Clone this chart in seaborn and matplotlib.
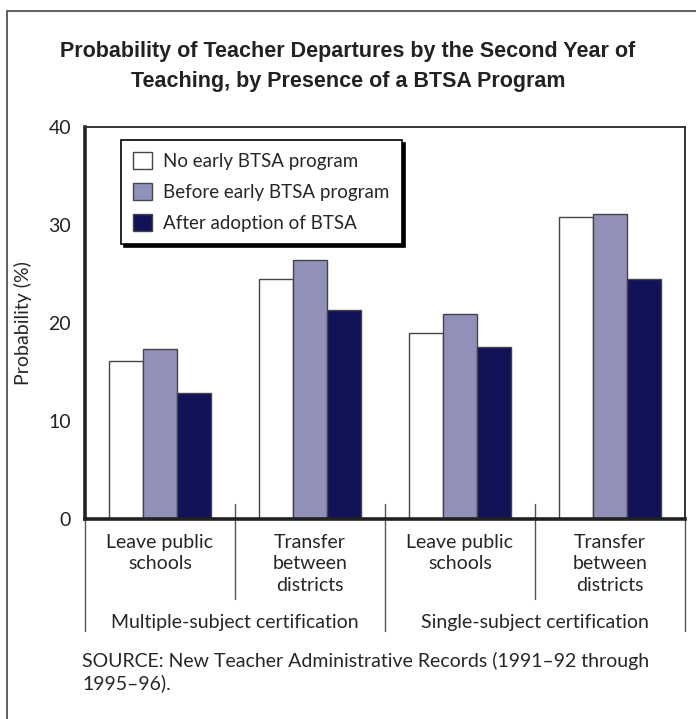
import pandas as pd
import numpy as np
import matplotlib
matplotlib.use('Agg')
import matplotlib.pyplot as plt
import matplotlib.transforms as mtransforms
from matplotlib.patches import Rectangle
import seaborn as sns

# data
cat_ids = ['ms_leave', 'ms_transfer', 'ss_leave', 'ss_transfer']
tick_labels = ['Leave public\nschools', 'Transfer\nbetween\ndistricts',
               'Leave public\nschools', 'Transfer\nbetween\ndistricts']
group_labels = ['Multiple-subject certification', 'Single-subject certification']
series = ['No early BTSA program', 'Before early BTSA program', 'After adoption of BTSA']
no_early = [16.1, 24.5, 19.0, 30.8]
before_early = [17.3, 26.4, 20.9, 31.1]
after_adoption = [12.9, 21.3, 17.6, 24.5]
colors = ['#ffffff', '#9090b8', '#121258']

df = pd.DataFrame({
    'cat': cat_ids * 3,
    'series': np.repeat(series, 4),
    'value': no_early + before_early + after_adoption,
})

sns.set_style('white')
plt.rcParams['font.family'] = ['Lato', 'DejaVu Sans']

fig = plt.figure(figsize=(6.96, 7.19), dpi=100)
ax = fig.add_axes([85 / 696, 1 - 519 / 719, 600 / 696, 392 / 719])

sns.barplot(data=df, x='cat', y='value', hue='series', order=cat_ids,
            hue_order=series, palette=colors, saturation=1, width=0.68, gap=0,
            edgecolor='#444444', linewidth=1, ax=ax)

ax.set_ylim(0, 40)
ax.set_xlim(-0.5, 3.5)
ax.set_yticks([0, 10, 20, 30, 40])
ax.tick_params(axis='y', direction='in', length=9, width=1, labelsize=14, pad=10, colors='#222222')
ax.set_xticks(range(4))
ax.set_xticklabels(tick_labels, fontsize=14, linespacing=1.3)
ax.tick_params(axis='x', length=0, pad=11)
ax.set_xlabel('')
ax.set_ylabel('Probability (%)', fontsize=14, labelpad=12)

for side in ['left', 'bottom']:
    ax.spines[side].set_linewidth(2.6)
    ax.spines[side].set_color('#222222')
for side in ['top', 'right']:
    ax.spines[side].set_linewidth(1.4)
    ax.spines[side].set_color('#333333')

# category separators and group brackets below the axis
trans = mtransforms.blended_transform_factory(ax.transData, ax.transAxes)
for xb in [0.5, 2.5]:
    ax.plot([xb, xb], [0.038, -0.205], transform=trans, color='#555555', lw=1, clip_on=False)
for xb in [-0.5, 1.5, 3.5]:
    ax.plot([xb, xb], [0.038 if xb == 1.5 else 0, -0.285], transform=trans,
            color='#555555', lw=1, clip_on=False)
for i, g in enumerate(group_labels):
    ax.text(0.5 + 2 * i, -0.265, g, transform=trans, ha='center', va='center', fontsize=14)

handles, labels = ax.get_legend_handles_labels()
leg = ax.legend(handles, labels, loc='upper left', bbox_to_anchor=(0.06, 0.967),
                borderaxespad=0, fancybox=False, frameon=True, edgecolor='black',
                shadow={'color': 'black', 'alpha': 1}, fontsize=13.5,
                handlelength=1.0, handleheight=1.0, handletextpad=0.6,
                labelspacing=0.7, borderpad=0.65)
leg.get_frame().set_linewidth(1.2)

fig.text(0.5, 1 - 51 / 719, 'Probability of Teacher Departures by the Second Year of',
         ha='center', va='center', fontsize=15.5, fontweight='bold',
         family=['Liberation Sans', 'DejaVu Sans'], color='#222222')
fig.text(0.5, 1 - 81 / 719, 'Teaching, by Presence of a BTSA Program',
         ha='center', va='center', fontsize=15.5, fontweight='bold',
         family=['Liberation Sans', 'DejaVu Sans'], color='#222222')

fig.text(82 / 696, 1 - 672 / 719,
         'SOURCE: New Teacher Administrative Records (1991\u201392 through\n1995\u201396).',
         ha='left', va='center', fontsize=14, linespacing=1.25)

# outer frame
fig.patches.append(Rectangle((7 / 696, -0.1), 1.2, 1.1 - 11 / 719, transform=fig.transFigure,
                             fill=False, edgecolor='#444444', lw=1.2))

fig.savefig('out.png', dpi=100)
